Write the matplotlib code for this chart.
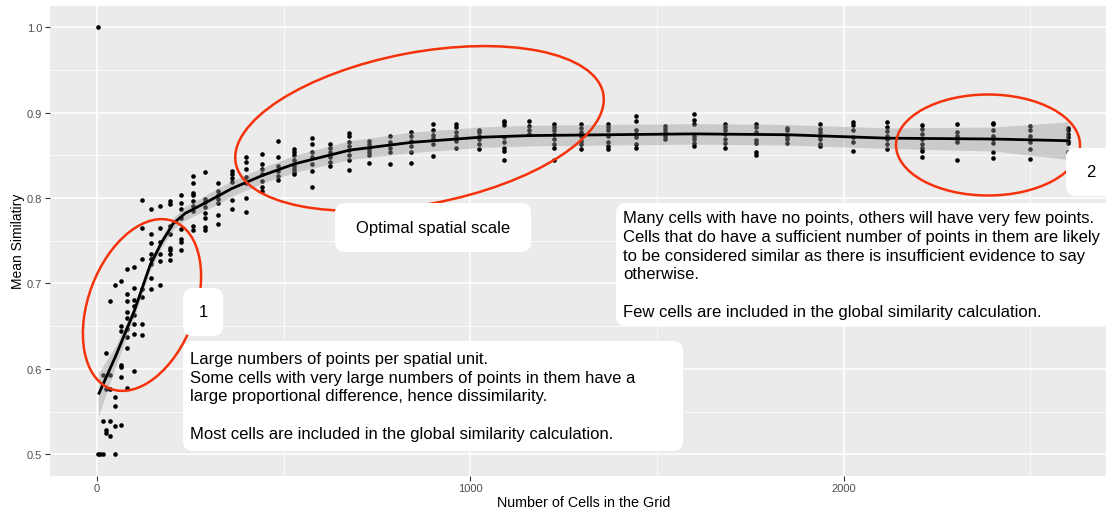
import matplotlib
matplotlib.use("Agg")
import matplotlib.pyplot as plt
from matplotlib.patches import Ellipse, FancyBboxPatch

plt.rcParams['font.family'] = ['Liberation Sans', 'DejaVu Sans']

# number of cells in the grid (one column of points per grid size)
cells = [4, 9, 16, 25, 36, 49, 64, 81, 100, 121, 144, 169, 196, 225, 256, 289,
         324, 361, 400, 441, 484, 529, 576, 625, 676, 729, 784, 841, 900, 961,
         1024, 1089, 1156, 1225, 1296, 1369, 1444, 1521, 1600, 1681, 1764, 1849,
         1936, 2025, 2116, 2209, 2304, 2401, 2500, 2601]

# mean similarity values read for each grid size
similarity = [
    [0.5, 1.0],
    [0.5],
    [0.5, 0.539, 0.593],
    [0.525, 0.529, 0.577, 0.619],
    [0.521, 0.539, 0.577, 0.593, 0.680],
    [0.5, 0.533, 0.556, 0.567, 0.698],
    [0.534, 0.591, 0.602, 0.605, 0.644, 0.650, 0.703],
    [0.578, 0.625, 0.637, 0.647, 0.659, 0.667, 0.680, 0.688, 0.717],
    [0.597, 0.641, 0.652, 0.663, 0.674, 0.681, 0.695, 0.719],
    [0.640, 0.653, 0.684, 0.694, 0.729, 0.765, 0.798],
    [0.693, 0.706, 0.723, 0.729, 0.735, 0.747, 0.758, 0.787],
    [0.698, 0.726, 0.735, 0.748, 0.765, 0.791],
    [0.727, 0.735, 0.739, 0.741, 0.758, 0.767, 0.793, 0.797],
    [0.739, 0.748, 0.752, 0.764, 0.776, 0.787, 0.794, 0.803],
    [0.763, 0.767, 0.785, 0.791, 0.797, 0.803, 0.806, 0.817, 0.826],
    [0.762, 0.766, 0.776, 0.782, 0.789, 0.795, 0.799, 0.830],
    [0.770, 0.780, 0.794, 0.799, 0.804, 0.808, 0.817],
    [0.787, 0.798, 0.819, 0.823, 0.828, 0.831],
    [0.784, 0.800, 0.817, 0.824, 0.834, 0.842, 0.848],
    [0.808, 0.813, 0.820, 0.828, 0.834, 0.840, 0.852],
    [0.821, 0.826, 0.832, 0.838, 0.848, 0.867],
    [0.828, 0.830, 0.834, 0.838, 0.844, 0.850, 0.854, 0.857],
    [0.813, 0.832, 0.840, 0.848, 0.854, 0.863, 0.870],
    [0.838, 0.842, 0.848, 0.854, 0.859, 0.863],
    [0.833, 0.844, 0.850, 0.856, 0.861, 0.866, 0.873, 0.876],
    [0.841, 0.850, 0.854, 0.857, 0.863, 0.867],
    [0.840, 0.854, 0.859, 0.865, 0.873],
    [0.841, 0.854, 0.861, 0.867, 0.872, 0.877],
    [0.849, 0.863, 0.870, 0.874, 0.879, 0.887],
    [0.858, 0.867, 0.872, 0.877, 0.883, 0.887],
    [0.857, 0.863, 0.869, 0.873, 0.877, 0.880],
    [0.845, 0.855, 0.859, 0.865, 0.871, 0.885, 0.889, 0.890],
    [0.875, 0.879, 0.884, 0.890],
    [0.845, 0.858, 0.863, 0.869, 0.875, 0.879, 0.883, 0.887],
    [0.857, 0.863, 0.867, 0.873, 0.877, 0.882, 0.886],
    [0.857, 0.861, 0.865, 0.873, 0.879, 0.883, 0.887],
    [0.858, 0.863, 0.871, 0.875, 0.879, 0.890, 0.896],
    [0.869, 0.873, 0.877, 0.881, 0.884],
    [0.861, 0.864, 0.869, 0.873, 0.886, 0.891, 0.898],
    [0.859, 0.864, 0.869, 0.875, 0.879, 0.883, 0.887],
    [0.850, 0.854, 0.864, 0.868, 0.877, 0.883, 0.887],
    [0.864, 0.869, 0.873, 0.879, 0.882],
    [0.861, 0.863, 0.869, 0.873, 0.877, 0.881, 0.887],
    [0.855, 0.865, 0.871, 0.879, 0.885, 0.889],
    [0.857, 0.863, 0.869, 0.873, 0.878, 0.883, 0.889],
    [0.848, 0.855, 0.859, 0.863, 0.869, 0.875, 0.881, 0.885],
    [0.845, 0.865, 0.869, 0.873, 0.877, 0.886],
    [0.847, 0.854, 0.864, 0.869, 0.873, 0.879, 0.886, 0.888],
    [0.846, 0.857, 0.865, 0.873, 0.879, 0.884],
    [0.854, 0.864, 0.867, 0.871, 0.875, 0.879, 0.882],
]

# smoothed trend and its confidence half-width
smooth_x = [4, 50, 100, 142, 173, 204, 236, 289, 361, 441, 530, 677, 841,
            1024, 1157, 1370, 1600, 1849, 2115, 2401, 2601]
smooth_y = [0.570, 0.615, 0.668, 0.721, 0.748, 0.770, 0.782, 0.794, 0.811,
            0.826, 0.840, 0.856, 0.865, 0.871, 0.873, 0.874, 0.875, 0.874,
            0.870, 0.869, 0.867]
smooth_se = [0.025, 0.012, 0.007, 0.006, 0.006, 0.007, 0.008, 0.009, 0.009,
             0.009, 0.010, 0.011, 0.012, 0.012, 0.012, 0.012, 0.012, 0.012,
             0.012, 0.014, 0.022]

notes = [
    ("1", 183, 289, 40, 48, "center"),
    ("Large numbers of points per spatial unit.\n"
     "Some cells with very large numbers of points in them have a\n"
     "large proportional difference, hence dissimilarity.\n\n"
     "Most cells are included in the global similarity calculation.",
     183, 342, 500, 110, "left"),
    ("Optimal spatial scale", 335, 204, 196, 49, "center"),
    ("Many cells with have no points, others will have very few points.\n"
     "Cells that do have a sufficient number of points in them are likely\n"
     "to be considered similar as there is insufficient evidence to say\n"
     "otherwise.\n\n"
     "Few cells are included in the global similarity calculation.",
     616, 204, 500, 123, "left"),
    ("2", 1066, 149, 50, 48, "center"),
]

W, H = 1106, 510
fig = plt.figure(figsize=(W / 100, H / 100), dpi=100)
ax = fig.add_axes([50 / W, (H - 476.7) / H, 1066.5 / W, 470 / H])
ax.set_facecolor('#EBEBEB')

xs = [c for c, col in zip(cells, similarity) for _ in col]
ys = [v for col in similarity for v in col]
ax.scatter(xs, ys, s=11, color='black', linewidths=0, zorder=2)

lo = [m - s for m, s in zip(smooth_y, smooth_se)]
hi = [m + s for m, s in zip(smooth_y, smooth_se)]
ax.fill_between(smooth_x, lo, hi, color='#999999', alpha=0.4, linewidth=0, zorder=3)
ax.plot(smooth_x, smooth_y, color='black', lw=2.0, zorder=4, solid_capstyle='butt')

ax.set_xlim(-125.9, 2731)
ax.set_ylim(0.475, 1.025)
ax.set_xticks([0, 1000, 2000])
ax.set_xticks([500, 1500, 2500], minor=True)
ax.set_yticks([0.5, 0.6, 0.7, 0.8, 0.9, 1.0])
ax.set_yticklabels(['0.5', '0.6', '0.7', '0.8', '0.9', '1.0'])
ax.set_yticks([0.55, 0.65, 0.75, 0.85, 0.95], minor=True)
ax.grid(which='major', color='white', lw=1.1, zorder=0)
ax.grid(which='minor', color='white', lw=0.55, zorder=0)
ax.set_axisbelow(True)
for sp in ax.spines.values():
    sp.set_visible(False)
ax.tick_params(which='major', length=3.5, width=0.8, color='#333333',
               labelcolor='#4D4D4D', labelsize=8, pad=2)
ax.tick_params(which='minor', length=0)
ax.set_xlabel('Number of Cells in the Grid', fontsize=10.3, labelpad=1)
ax.set_ylabel('Mean Similatiry', fontsize=10, labelpad=1.5)


def inch(x, y):
    return x / 100, (H - y) / 100


red = '#F5320A'
for cx, cy, w, h, ang in [(142, 306, 179, 107, 69.5),
                          (419.5, 129.5, 374, 152, 10.75),
                          (988, 146, 184, 101, 0)]:
    fig.add_artist(Ellipse(inch(cx, cy), w / 100, h / 100, angle=ang,
                           transform=fig.dpi_scale_trans, fill=False,
                           ec=red, lw=1.8, zorder=5))

for txt, x0, y0, w, h, ha in notes:
    fig.add_artist(FancyBboxPatch(inch(x0, y0 + h), w / 100, h / 100,
                                  boxstyle='round,pad=0,rounding_size=0.1',
                                  transform=fig.dpi_scale_trans,
                                  fc='white', ec='none', zorder=6))
    if ha == 'center':
        fig.text(*inch(x0 + w / 2, y0 + h / 2), txt, ha='center', va='center',
                 fontsize=12, transform=fig.dpi_scale_trans, zorder=7)
    else:
        fig.text(*inch(x0 + 7, y0 + h / 2), txt, ha='left', va='center',
                 fontsize=12, linespacing=1.32,
                 transform=fig.dpi_scale_trans, zorder=7)

fig.savefig('out.png', dpi=100)
